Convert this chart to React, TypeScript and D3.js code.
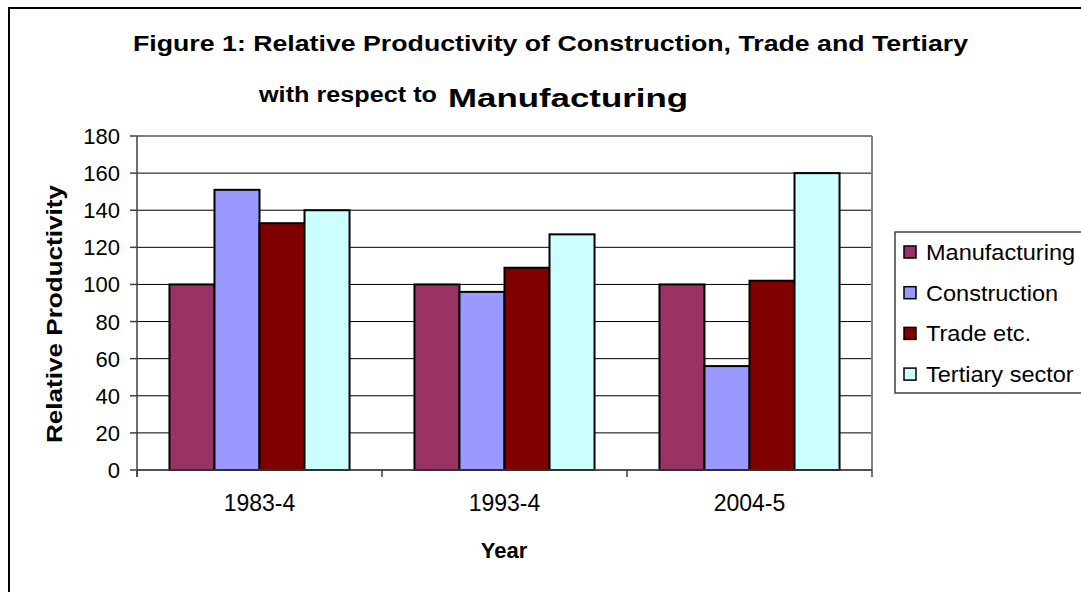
import React from "react";
import * as d3 from "d3";

const categories = ["1983-4", "1993-4", "2004-5"];
const seriesNames = ["Manufacturing", "Construction", "Trade etc.", "Tertiary sector"];
const manufacturing = [100, 100, 100];
const construction = [151, 96, 56];
const trade = [133, 109, 102];
const tertiary = [140, 127, 160];
const seriesValues = [manufacturing, construction, trade, tertiary];
const seriesColors = ["#993366", "#9999FF", "#800000", "#CCFFFF"];
const yTicks = [0, 20, 40, 60, 80, 100, 120, 140, 160, 180];

const W = 1081;
const H = 592;
const plot = { left: 137, right: 872, top: 136, bottom: 470 };
const FONT = "'Liberation Sans', Arial, sans-serif";

export default function App() {
  const y = d3.scaleLinear().domain([0, 180]).range([plot.bottom, plot.top]);
  const x0 = d3
    .scaleBand<string>()
    .domain(categories)
    .range([plot.left, plot.right])
    .paddingInner(0.265)
    .paddingOuter(0.1325);
  const x1 = d3
    .scaleBand<string>()
    .domain(seriesNames)
    .range([0, x0.bandwidth()])
    .padding(0);
  const step = x0.step();
  const boundaries = d3.range(categories.length + 1).map((i) => plot.left + i * step);

  return (
    <svg
      width={W}
      height={H}
      style={{ position: "absolute", left: 0, top: 0, background: "#fff" }}
      fontFamily={FONT}
    >
      <rect x={0} y={0} width={W} height={H} fill="#fff" />
      {/* outer chart border */}
      <rect x={9} y={8} width={W + 20} height={H + 20} fill="none" stroke="#000" strokeWidth={2} />

      {/* title */}
      <text x={133} y={51} fontWeight="bold" fontSize={22.5} fill="#000" textLength={835} lengthAdjust="spacingAndGlyphs">
        Figure 1: Relative Productivity of Construction, Trade and Tertiary
      </text>
      <text x={259} y={102} fontWeight="bold" fontSize={22} fill="#000" textLength={178} lengthAdjust="spacingAndGlyphs">
        with respect to
      </text>
      <text x={448} y={107} fontWeight="bold" fontSize={26.5} fill="#000" textLength={240} lengthAdjust="spacingAndGlyphs">
        Manufacturing
      </text>

      {/* gridlines */}
      {yTicks.map((t) => (
        <line
          key={"g" + t}
          x1={plot.left}
          x2={plot.right}
          y1={y(t)}
          y2={y(t)}
          stroke="#000"
          strokeWidth={1}
        />
      ))}
      {/* plot area border top/right */}
      <line x1={plot.left} x2={plot.right} y1={plot.top} y2={plot.top} stroke="#808080" strokeWidth={2} />
      <line x1={plot.right} x2={plot.right} y1={plot.top} y2={plot.bottom} stroke="#808080" strokeWidth={2} />

      {/* bars */}
      {categories.map((c, ci) => (
        <g key={c} transform={`translate(${x0(c)},0)`}>
          {seriesNames.map((s, si) => {
            const v = seriesValues[si][ci];
            return (
              <rect
                key={s}
                x={x1(s)}
                y={y(v)}
                width={x1.bandwidth()}
                height={y(0) - y(v)}
                fill={seriesColors[si]}
                stroke="#000"
                strokeWidth={2}
              />
            );
          })}
        </g>
      ))}

      {/* y axis */}
      <line x1={plot.left} x2={plot.left} y1={plot.top} y2={plot.bottom + 7} stroke="#404040" strokeWidth={1.5} />
      {yTicks.map((t) => (
        <g key={"yt" + t}>
          <line x1={plot.left - 7} x2={plot.left} y1={y(t)} y2={y(t)} stroke="#404040" strokeWidth={1.5} />
          <text x={plot.left - 17} y={y(t) + 8} textAnchor="end" fontSize={22} fill="#000">
            {t}
          </text>
        </g>
      ))}

      {/* x axis */}
      <line x1={plot.left} x2={plot.right} y1={plot.bottom} y2={plot.bottom} stroke="#404040" strokeWidth={1.5} />
      {boundaries.map((b, i) => (
        <line key={"xt" + i} x1={b} x2={b} y1={plot.bottom} y2={plot.bottom + 7} stroke="#404040" strokeWidth={1.5} />
      ))}
      {categories.map((c) => (
        <text key={"xl" + c} x={(x0(c) as number) + x0.bandwidth() / 2} y={511} textAnchor="middle" fontSize={23} fill="#000">
          {c}
        </text>
      ))}

      {/* axis titles */}
      <text
        transform={`translate(62,${(plot.top + plot.bottom) / 2 + 11}) rotate(-90)`}
        textAnchor="middle"
        fontWeight="bold"
        fontSize={22}
        fill="#000"
        textLength={258}
        lengthAdjust="spacingAndGlyphs"
      >
        Relative Productivity
      </text>
      <text x={504} y={558} textAnchor="middle" fontWeight="bold" fontSize={22} fill="#000">
        Year
      </text>

      {/* legend */}
      <rect x={895} y={232} width={220} height={161} fill="#fff" stroke="#404040" strokeWidth={1.5} />
      {seriesNames.map((s, i) => {
        const cy = 252 + i * 40.7;
        return (
          <g key={"lg" + s}>
            <rect x={904} y={cy - 6} width={12} height={12} fill={seriesColors[i]} stroke="#000" strokeWidth={1.5} />
            <g transform={`translate(926,${cy + 8}) scale(1.07,1)`}>
              <text x={0} y={0} fontSize={22} fill="#000">
                {s}
              </text>
            </g>
          </g>
        );
      })}
    </svg>
  );
}
